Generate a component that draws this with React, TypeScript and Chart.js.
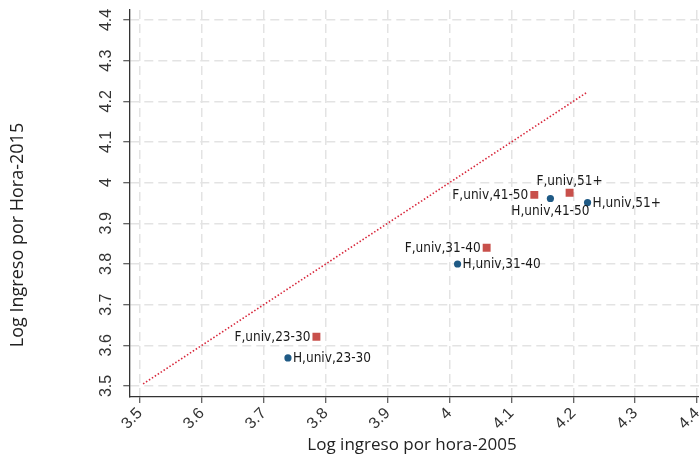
import React, { useEffect, useRef } from "react";
import { Chart, registerables } from "chart.js";

Chart.register(...registerables);

const tickValues = [3.5, 3.6, 3.7, 3.8, 3.9, 4.0, 4.1, 4.2, 4.3, 4.4];
const tickLabels = ["3.5", "3.6", "3.7", "3.8", "3.9", "4", "4.1", "4.2", "4.3", "4.4"];

const hLabels = ["H,univ,23-30", "H,univ,31-40", "H,univ,41-50", "H,univ,51+"];
const hX = [3.739, 4.013, 4.163, 4.223];
const hY = [3.569, 3.8, 3.961, 3.951];

const fLabels = ["F,univ,23-30", "F,univ,31-40", "F,univ,41-50", "F,univ,51+"];
const fX = [3.785, 4.06, 4.137, 4.194];
const fY = [3.621, 3.84, 3.97, 3.975];

const lineX = [3.505, 4.223];
const lineY = [3.505, 4.223];

const xTitle = "Log ingreso por hora-2005";
const yTitle = "Log Ingreso por Hora-2015";

// label placement per series point (style config)
const hLabelPos = ["right", "right", "below", "right"];
const fLabelPos = ["left", "left", "left", "above"];

const LABEL_FONT = "13.5px 'Liberation Sans Narrow', 'DejaVu Sans Condensed', sans-serif";

const labelPlugin = {
  id: "pointLabels",
  afterDatasetsDraw(chart: any) {
    const ctx = chart.ctx;
    const xs = chart.scales.x;
    const ys = chart.scales.y;
    ctx.save();
    ctx.font = LABEL_FONT;
    ctx.fillStyle = "#1a1a1a";
    const draw = (labels: string[], X: number[], Y: number[], pos: string[], off: number) => {
      labels.forEach((t, i) => {
        const px = xs.getPixelForValue(X[i]);
        const py = ys.getPixelForValue(Y[i]);
        const p = pos[i];
        if (p === "right") {
          ctx.textAlign = "left";
          ctx.textBaseline = "middle";
          ctx.fillText(t, px + off, py + 1);
        } else if (p === "left") {
          ctx.textAlign = "right";
          ctx.textBaseline = "middle";
          ctx.fillText(t, px - off, py + 1);
        } else if (p === "below") {
          ctx.textAlign = "center";
          ctx.textBaseline = "middle";
          ctx.fillText(t, px, py + 13);
        } else {
          ctx.textAlign = "center";
          ctx.textBaseline = "middle";
          ctx.fillText(t, px, py - 11);
        }
      });
    };
    draw(hLabels, hX, hY, hLabelPos, 5);
    draw(fLabels, fX, fY, fLabelPos, 6);
    ctx.restore();
  },
};

const titlePlugin = {
  id: "axisTitles",
  afterDraw(chart: any) {
    const ctx = chart.ctx;
    ctx.save();
    ctx.fillStyle = "#222";
    ctx.textAlign = "center";
    ctx.textBaseline = "middle";
    ctx.font = "17px 'Open Sans', sans-serif";
    ctx.fillText(xTitle, 412, 445);
    ctx.translate(18, 235);
    ctx.rotate(-Math.PI / 2);
    ctx.font = "18px 'Open Sans', sans-serif";
    ctx.fillText(yTitle, 0, 0);
    ctx.restore();
  },
};

export default function App() {
  const ref = useRef<HTMLCanvasElement | null>(null);
  useEffect(() => {
    if (!ref.current) return;
    const gridCommon = {
      color: "#e3e3e3",
      lineWidth: 1.5,
      drawTicks: true,
      tickLength: 6,
      tickColor: "#333",
      tickWidth: 1,
      tickBorderDash: [],
    };
    const tickFont = { family: "'Liberation Sans Narrow', sans-serif", size: 16 };
    const chart = new Chart(ref.current, {
      type: "scatter",
      data: {
        datasets: [
          {
            type: "line",
            label: "45",
            data: lineX.map((x, i) => ({ x, y: lineY[i] })),
            borderColor: "#d8283c",
            borderWidth: 1.6,
            borderDash: [1.5, 2],
            pointRadius: 0,
            fill: false,
          } as any,
          {
            label: "F",
            data: fX.map((x, i) => ({ x, y: fY[i] })),
            pointStyle: "rect",
            pointRadius: 5.6,
            backgroundColor: "#c8504b",
            borderColor: "#c8504b",
            borderWidth: 0,
          },
          {
            label: "H",
            data: hX.map((x, i) => ({ x, y: hY[i] })),
            pointStyle: "circle",
            pointRadius: 3.6,
            backgroundColor: "#1f5a85",
            borderColor: "#1f5a85",
            borderWidth: 0,
          },
        ],
      },
      options: {
        responsive: false,
        animation: false,
        layout: { padding: { top: 10, right: 0, left: 0, bottom: 0 } },
        plugins: {
          legend: { display: false },
          tooltip: { enabled: false },
        },
        scales: {
          x: {
            type: "linear",
            min: 3.4827,
            max: 4.4037,
            grid: gridCommon,
            border: { display: true, color: "#333", width: 1.3, dash: [9, 5] },
            afterBuildTicks: (s: any) => {
              s.ticks = tickValues.map((v) => ({ value: v }));
            },
            afterFit: (s: any) => {
              s.height = 58;
              s.paddingLeft = 0;
              s.paddingRight = 0;
            },
            ticks: {
              minRotation: 45,
              maxRotation: 45,
              padding: 1,
              color: "#333",
              font: tickFont,
              autoSkip: false,
              callback: (v: any) => {
                const i = tickValues.findIndex((t) => Math.abs(t - v) < 1e-6);
                return i >= 0 ? tickLabels[i] : "";
              },
            },
          },
          y: {
            type: "linear",
            min: 3.4729,
            max: 4.4246,
            grid: gridCommon,
            border: { display: true, color: "#333", width: 1.3, dash: [9, 5] },
            afterBuildTicks: (s: any) => {
              s.ticks = tickValues.map((v) => ({ value: v }));
            },
            afterFit: (s: any) => {
              s.width = 129.3;
              s.paddingTop = 0;
              s.paddingBottom = 0;
            },
            ticks: {
              minRotation: 90,
              maxRotation: 90,
              crossAlign: "center",
              padding: 6,
              color: "#333",
              font: tickFont,
              autoSkip: false,
              callback: (v: any) => {
                const i = tickValues.findIndex((t) => Math.abs(t - v) < 1e-6);
                return i >= 0 ? tickLabels[i] : "";
              },
            },
          },
        },
      },
      plugins: [labelPlugin, titlePlugin],
    } as any);
    return () => chart.destroy();
  }, []);
  return (
    <div
      style={{
        position: "fixed",
        left: 0,
        top: 0,
        width: 699,
        height: 455,
        overflow: "hidden",
        background: "#fff",
      }}
    >
      <canvas ref={ref} width={705} height={455} style={{ display: "block" }} />
    </div>
  );
}
